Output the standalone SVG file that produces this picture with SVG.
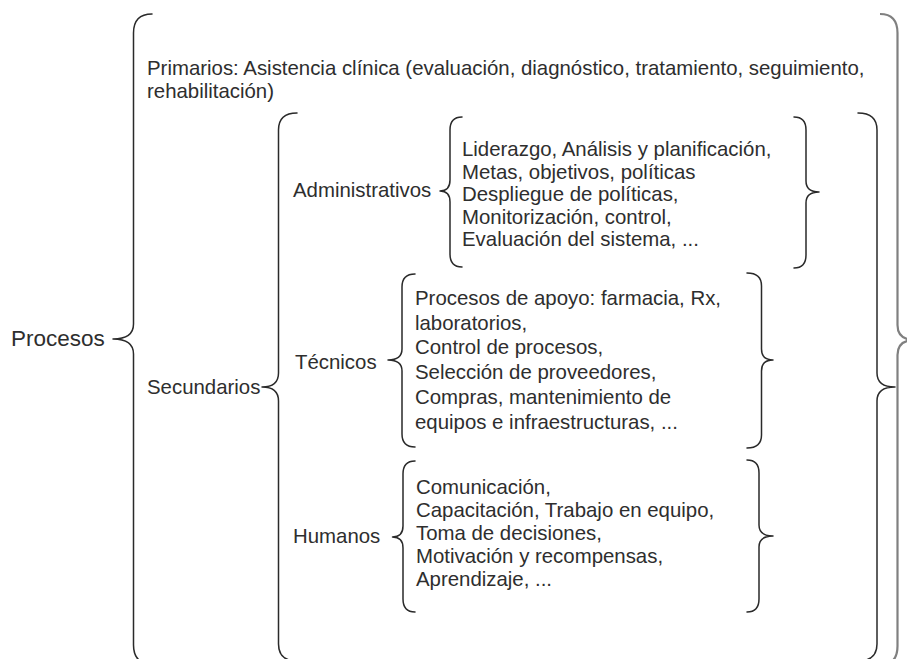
<svg xmlns="http://www.w3.org/2000/svg" width="907" height="659" viewBox="0 0 907 659">
<style>
text{font-family:"Liberation Sans",Arial,sans-serif;font-size:20.4px;fill:#2e2e2e}
.big{font-size:22.5px}
.br{fill:none;stroke:#2a2a2a;stroke-width:1.5;stroke-linecap:round;stroke-linejoin:round}
.br2{fill:none;stroke:#808080;stroke-width:2.2}
</style>
<rect width="907" height="659" fill="#fff"/>
<g id="connectors">
<path class="br" d="M152 14 Q133.5 14 133.5 33 L133.5 324 Q133.5 339 113 339 Q133.5 339 133.5 354 L133.5 645 Q133.5 664 152 664"/>
<path class="br" d="M297 113 Q278.5 113 278.5 130 L278.5 373 Q278.5 387 262 387 Q278.5 387 278.5 401 L278.5 644 Q278.5 661 297 661"/>
<path class="br" d="M462 117 Q450 117 450 130 L450 180 Q450 191 440 191 Q450 191 450 202 L450 254 Q450 267 462 267"/>
<path class="br" d="M415 274 Q402 274 402 287 L402 349 Q402 360 388 360 Q402 360 402 371 L402 434 Q402 447 415 447"/>
<path class="br" d="M415 461 Q403 461 403 474 L403 526 Q403 537 392.5 537 Q403 537 403 548 L403 599 Q403 612 415 612"/>
<path class="br" d="M794 117 Q806 117 806 130 L806 181 Q806 192 819 192 Q806 192 806 203 L806 255 Q806 268 794 268"/>
<path class="br" d="M747 273 Q761.5 273 761.5 286 L761.5 349 Q761.5 360 773 360 Q761.5 360 761.5 371 L761.5 435 Q761.5 448 747 448"/>
<path class="br" d="M747 460 Q759 460 759 473 L759 525 Q759 536 773 536 Q759 536 759 547 L759 599 Q759 612 747 612"/>
<path class="br" d="M858 113 Q877 113 877 130 L877 373 Q877 387 895 387 Q877 387 877 401 L877 644 Q877 661 858 661"/>
<path class="br2" d="M880 14 Q897.5 14 897.5 33 L897.5 325 Q897.5 340 915 340 Q897.5 340 897.5 355 L897.5 646 Q897.5 665 880 665"/>
</g>
<g id="procesos"><text class="big" x="11" y="346">Procesos</text></g>
<g id="primarios">
<text x="147" y="75">Primarios: Asistencia clínica (evaluación, diagnóstico, tratamiento, seguimiento,</text>
<text x="147" y="98">rehabilitación)</text>
</g>
<g id="secundarios"><text x="147" y="394">Secundarios</text></g>
<g id="administrativos"><text x="293" y="197">Administrativos</text></g>
<g id="administrativos-lista">
<text x="462" y="156">Liderazgo, Análisis y planificación,</text>
<text x="462" y="178.5">Metas, objetivos, políticas</text>
<text x="462" y="201">Despliegue de políticas,</text>
<text x="462" y="223.5">Monitorización, control,</text>
<text x="462" y="246">Evaluación del sistema, ...</text>
</g>
<g id="tecnicos"><text x="295" y="369">Técnicos</text></g>
<g id="tecnicos-lista">
<text x="415" y="305">Procesos de apoyo: farmacia, Rx,</text>
<text x="415" y="329.7">laboratorios,</text>
<text x="415" y="354.4">Control de procesos,</text>
<text x="415" y="379.1">Selección de proveedores,</text>
<text x="415" y="403.8">Compras, mantenimiento de</text>
<text x="415" y="428.5">equipos e infraestructuras, ...</text>
</g>
<g id="humanos"><text x="293" y="543">Humanos</text></g>
<g id="humanos-lista">
<text x="416" y="494">Comunicación,</text>
<text x="416" y="517">Capacitación, Trabajo en equipo,</text>
<text x="416" y="540">Toma de decisiones,</text>
<text x="416" y="563">Motivación y recompensas,</text>
<text x="416" y="586">Aprendizaje, ...</text>
</g>
</svg>
